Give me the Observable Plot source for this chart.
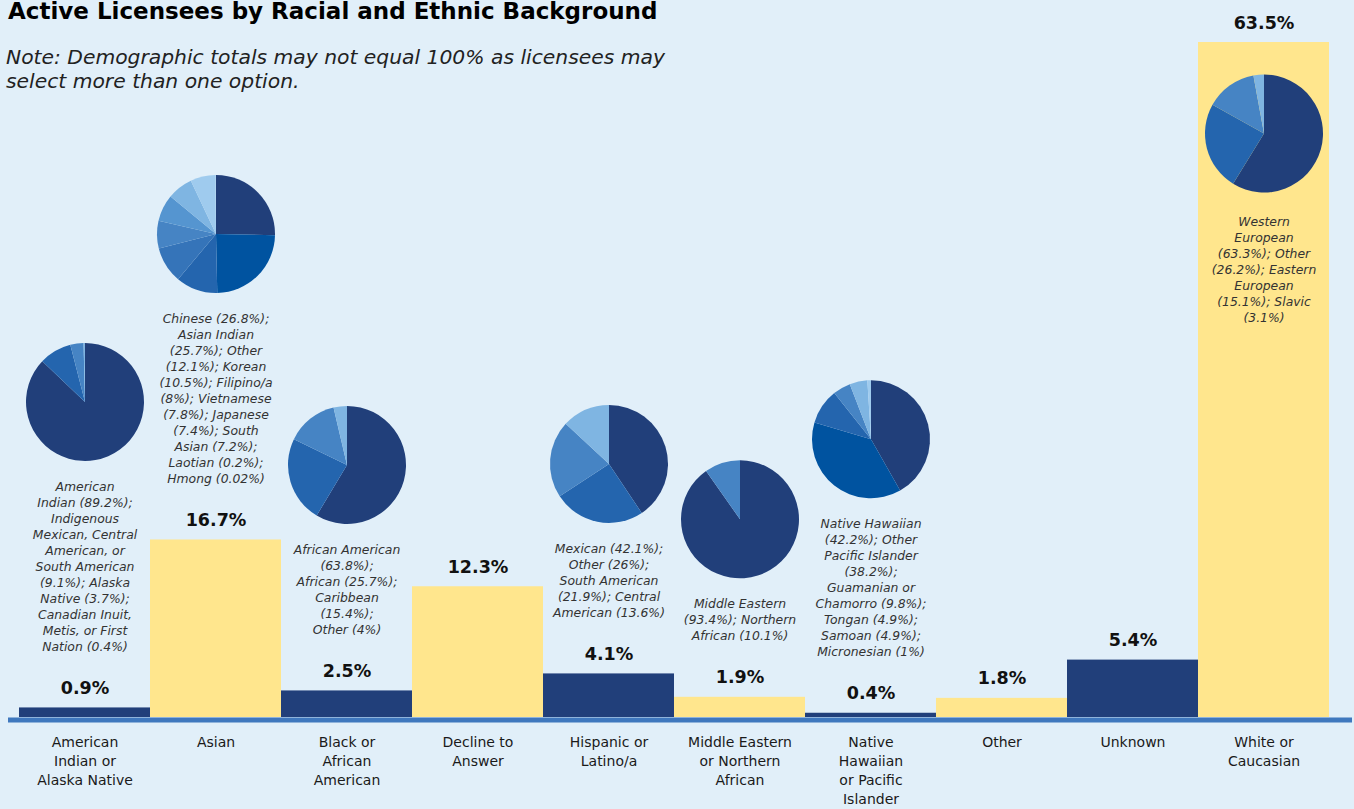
<!DOCTYPE html>
<html><head><meta charset="utf-8">
<script src="https://cdn.jsdelivr.net/npm/d3@7"></script>
<script src="https://cdn.jsdelivr.net/npm/@observablehq/plot@0.6"></script>
<style>
html,body{margin:0;padding:0;background:#e1eff9;}
#wrap{position:relative;width:1354px;height:809px;overflow:hidden;background:#e1eff9;}
#chart{position:absolute;left:0;top:0;}
#title{position:absolute;left:8px;top:0px;font:bold 23px "DejaVu Sans";line-height:22px;color:#000;white-space:nowrap;}
#note{position:absolute;left:6px;top:45px;font:italic 20.3px "DejaVu Sans";line-height:24px;color:#222;white-space:nowrap;}
</style></head><body>
<div id="wrap">
  <div id="chart"></div>
  <div id="title">Active Licensees by Racial and Ethnic Background</div>
  <div id="note">Note: Demographic totals may not equal 100% as licensees may<br>select more than one option.</div>
</div>
<script>
// ---- data ----
const categories = ["American Indian or Alaska Native","Asian","Black or African American","Decline to Answer","Hispanic or Latino/a","Middle Eastern or Northern African","Native Hawaiian or Pacific Islander","Other","Unknown","White or Caucasian"];
const shares = [0.9, 16.7, 2.5, 12.3, 4.1, 1.9, 0.4, 1.8, 5.4, 63.5];
const tickLabels = ["American\nIndian or\nAlaska Native","Asian","Black or\nAfrican\nAmerican","Decline to\nAnswer","Hispanic or\nLatino/a","Middle Eastern\nor Northern\nAfrican","Native\nHawaiian\nor Pacific\nIslander","Other","Unknown","White or\nCaucasian"];

const subCategory = [
  "American Indian or Alaska Native","American Indian or Alaska Native","American Indian or Alaska Native","American Indian or Alaska Native",
  "Asian","Asian","Asian","Asian","Asian","Asian","Asian","Asian","Asian","Asian",
  "Black or African American","Black or African American","Black or African American","Black or African American",
  "Hispanic or Latino/a","Hispanic or Latino/a","Hispanic or Latino/a","Hispanic or Latino/a",
  "Middle Eastern or Northern African","Middle Eastern or Northern African",
  "Native Hawaiian or Pacific Islander","Native Hawaiian or Pacific Islander","Native Hawaiian or Pacific Islander","Native Hawaiian or Pacific Islander","Native Hawaiian or Pacific Islander","Native Hawaiian or Pacific Islander",
  "White or Caucasian","White or Caucasian","White or Caucasian","White or Caucasian"
];
const subGroup = [
  "American Indian","Indigenous Mexican, Central American, or South American","Alaska Native","Canadian Inuit, Metis, or First Nation",
  "Chinese","Asian Indian","Other","Korean","Filipino/a","Vietnamese","Japanese","South Asian","Laotian","Hmong",
  "African American","African","Caribbean","Other",
  "Mexican","Other","South American","Central American",
  "Middle Eastern","Northern African",
  "Native Hawaiian","Other Pacific Islander","Guamanian or Chamorro","Tongan","Samoan","Micronesian",
  "Western European","Other","Eastern European","Slavic"
];
const subShare = [
  89.2, 9.1, 3.7, 0.4,
  26.8, 25.7, 12.1, 10.5, 8, 7.8, 7.4, 7.2, 0.2, 0.02,
  63.8, 25.7, 15.4, 4,
  42.1, 26, 21.9, 13.6,
  93.4, 10.1,
  42.2, 38.2, 9.8, 4.9, 4.9, 1,
  63.3, 26.2, 15.1, 3.1
];
const notes = [
  "American\nIndian (89.2%);\nIndigenous\nMexican, Central\nAmerican, or\nSouth American\n(9.1%); Alaska\nNative (3.7%);\nCanadian Inuit,\nMetis, or First\nNation (0.4%)",
  "Chinese (26.8%);\nAsian Indian\n(25.7%); Other\n(12.1%); Korean\n(10.5%); Filipino/a\n(8%); Vietnamese\n(7.8%); Japanese\n(7.4%); South\nAsian (7.2%);\nLaotian (0.2%);\nHmong (0.02%)",
  "African American\n(63.8%);\nAfrican (25.7%);\nCaribbean\n(15.4%);\nOther (4%)",
  null,
  "Mexican (42.1%);\nOther (26%);\nSouth American\n(21.9%); Central\nAmerican (13.6%)",
  "Middle Eastern\n(93.4%); Northern\nAfrican (10.1%)",
  "Native Hawaiian\n(42.2%); Other\nPacific Islander\n(38.2%);\nGuamanian or\nChamorro (9.8%);\nTongan (4.9%);\nSamoan (4.9%);\nMicronesian (1%)",
  null, null,
  "Western\nEuropean\n(63.3%); Other\n(26.2%); Eastern\nEuropean\n(15.1%); Slavic\n(3.1%)"
];

// ---- styles ----
const barDark = "#213f7a", barYellow = "#ffe68d";
const S = {d:"#213f7a", a:"#0053a0", b:"#2465ae", c:"#3574b9", e:"#4684c4", f:"#5595d0", g:"#7fb5e2", h:"#9fcbee"};
const shadesByCount = {
  2: [S.d, S.e],
  4: [S.d, S.b, S.e, S.g],
  6: [S.d, S.a, S.b, S.e, S.g, S.h],
  10: [S.d, S.a, S.b, S.c, S.e, S.f, S.g, S.h, S.h, S.h]
};
const font = "DejaVu Sans";
const pieR = 59;

const rows = categories.map((c, i) => ({category: c, share: shares[i], note: notes[i], fill: i % 2 ? barYellow : barDark}));

function wedge(a0, a1) {
  return {draw(ctx, size) {
    const r = Math.sqrt(size / Math.PI);
    ctx.moveTo(0, 0);
    ctx.arc(0, 0, r, a0, a1);
    ctx.closePath();
  }};
}

const pieMarks = [];
for (const row of rows) {
  const idx = subCategory.map((c, j) => c === row.category ? j : -1).filter(j => j >= 0);
  if (!idx.length) continue;
  const total = d3.sum(idx, j => subShare[j]);
  const shades = shadesByCount[idx.length];
  const nLines = row.note.split("\n").length;
  const inside = row.share > 30;
  const dy = inside ? 91 : -(146 + (nLines - 1) * 16);
  let acc = 0;
  idx.forEach((j, k) => {
    const f0 = acc / total; acc += subShare[j]; const f1 = acc / total;
    const a0 = -Math.PI / 2 + 2 * Math.PI * f0, a1 = -Math.PI / 2 + 2 * Math.PI * f1;
    pieMarks.push(Plot.dot([row], {x: "category", y: "share", r: pieR, symbol: wedge(a0, a1), fill: shades[k], stroke: "none", dy}));
  });
}

const outsideNotes = rows.filter(d => d.note && d.share <= 30);
const insideNotes = rows.filter(d => d.note && d.share > 30);

const chart = Plot.plot({
  width: 1354,
  height: 809,
  marginLeft: 17,
  marginRight: 24,
  marginTop: 42,
  marginBottom: 92,
  style: {background: "transparent", fontFamily: font, color: "#111", overflow: "visible"},
  x: {domain: categories, padding: 0, axis: null, label: null},
  y: {domain: [0, 63.5], axis: null},
  marks: [
    Plot.barY(rows, {x: "category", y: "share", fill: "fill"}),
    Plot.ruleY([0], {stroke: "#3f78be", strokeWidth: 5, dy: 2.5, insetLeft: -9, insetRight: -22}),
    Plot.axisX({tickSize: 0, tickPadding: 16, label: null, tickFormat: (d) => tickLabels[categories.indexOf(d)], fontSize: 14, lineHeight: 19 / 14, fill: "#1a1a1a"}),
    Plot.text(rows, {x: "category", y: "share", text: d => d.share + "%", dy: -14, lineAnchor: "bottom", fontSize: 17.5, fontWeight: "bold", fill: "#111"}),
    Plot.text(outsideNotes, {x: "category", y: "share", text: "note", dy: -57, lineAnchor: "bottom", fontSize: 12.4, lineHeight: 16 / 12.4, fontStyle: "italic", fill: "#333"}),
    Plot.text(insideNotes, {x: "category", y: "share", text: "note", dy: 172, lineAnchor: "top", fontSize: 12.4, lineHeight: 16 / 12.4, fontStyle: "italic", fill: "#333"}),
    ...pieMarks
  ]
});
document.getElementById("chart").appendChild(chart);
</script>
</body></html>
